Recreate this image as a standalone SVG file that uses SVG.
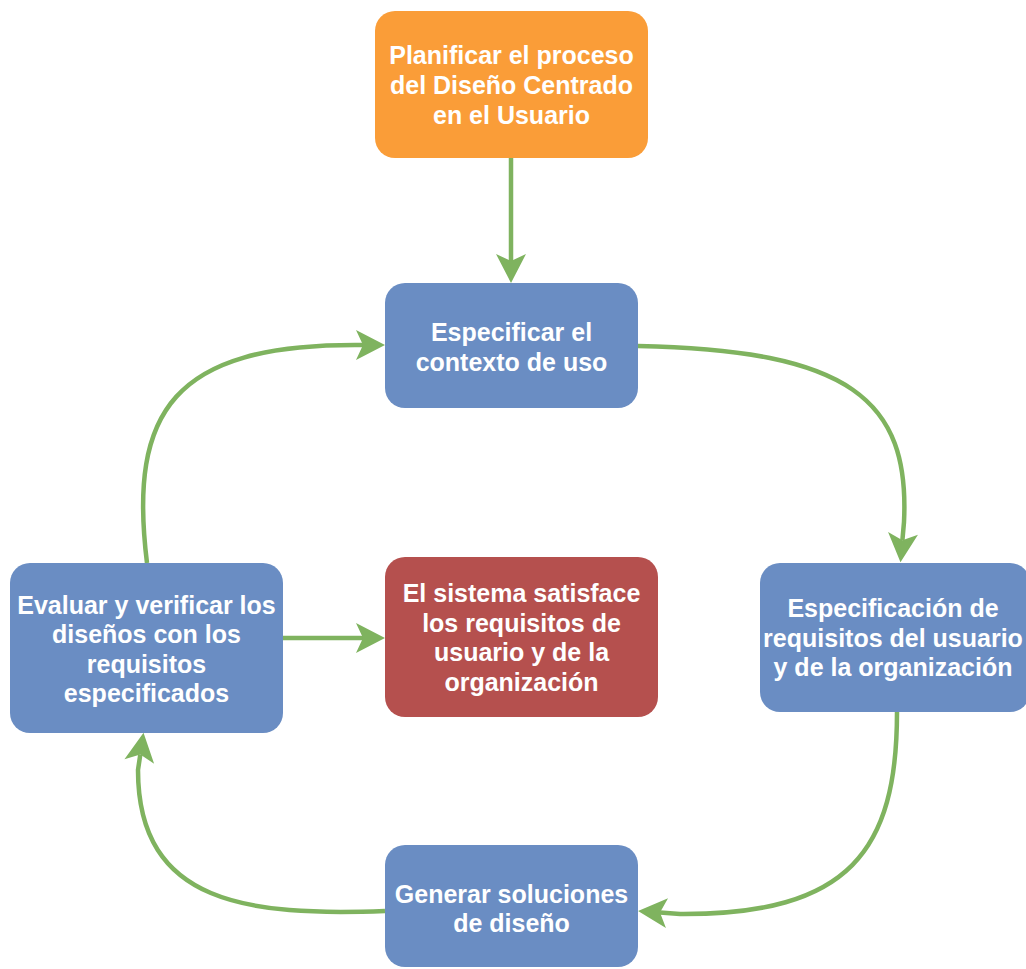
<svg xmlns="http://www.w3.org/2000/svg" width="1026" height="969" viewBox="0 0 1026 969">
<style>
.node text{font-family:"Liberation Sans",Arial,sans-serif;font-weight:bold;font-size:25px;fill:#ffffff;text-anchor:middle}
.blue{fill:#6A8DC3}
.orange{fill:#FA9D38}
.red{fill:#B5504E}
.edge{fill:none;stroke:#7FB35F;stroke-width:4.5}
</style>
<defs>
<marker id="arr" markerUnits="userSpaceOnUse" markerWidth="32" markerHeight="32" refX="7" refY="15" orient="auto" overflow="visible">
<path d="M29,15 L0,0 L7,15 L0,30 Z" fill="#7FB35F"/>
</marker>
</defs>
<rect width="1026" height="969" fill="#ffffff"/>
<g id="connectors">
<path class="edge" d="M511,158 L511,261" marker-end="url(#arr)"/>
<path class="edge" d="M638,346 C850,350 910,400 904,522 L902.4,540.3" marker-end="url(#arr)"/>
<path class="edge" d="M897,712 C897,850 850,915 680,914 L660,912.6" marker-end="url(#arr)"/>
<path class="edge" d="M385,911 C250,916 138,905 138,770 L140.3,754.5" marker-end="url(#arr)"/>
<path class="edge" d="M147,563 C128,410 175,345 355,345 L363,345" marker-end="url(#arr)"/>
<path class="edge" d="M283,638 L363,638" marker-end="url(#arr)"/>
</g>
<g id="n-planificar" class="node">
<rect class="orange" x="375" y="11" width="273" height="147" rx="20"/>
<text x="511.5" y="64">Planificar el proceso</text>
<text x="511.5" y="94">del Diseño Centrado</text>
<text x="511.5" y="124">en el Usuario</text>
</g>
<g id="n-contexto" class="node">
<rect class="blue" x="385" y="283" width="253" height="125" rx="20"/>
<text x="511.5" y="341">Especificar el</text>
<text x="511.5" y="371">contexto de uso</text>
</g>
<g id="n-requisitos" class="node">
<rect class="blue" x="760" y="563" width="270" height="149" rx="20"/>
<text x="893" y="617">Especificación de</text>
<text x="893" y="646.5">requisitos del usuario</text>
<text x="893" y="676">y de la organización</text>
</g>
<g id="n-generar" class="node">
<rect class="blue" x="385" y="845" width="253" height="122" rx="20"/>
<text x="511.5" y="903">Generar soluciones</text>
<text x="511.5" y="932">de diseño</text>
</g>
<g id="n-evaluar" class="node">
<rect class="blue" x="10" y="563" width="273" height="170" rx="20"/>
<text x="146.5" y="613.5">Evaluar y verificar los</text>
<text x="146.5" y="643">diseños con los</text>
<text x="146.5" y="672.5">requisitos</text>
<text x="146.5" y="702">especificados</text>
</g>
<g id="n-sistema" class="node">
<rect class="red" x="385" y="557" width="273" height="160" rx="20"/>
<text x="521.5" y="602">El sistema satisface</text>
<text x="521.5" y="631.5">los requisitos de</text>
<text x="521.5" y="661">usuario y de la</text>
<text x="521.5" y="690.5">organización</text>
</g>
</svg>
